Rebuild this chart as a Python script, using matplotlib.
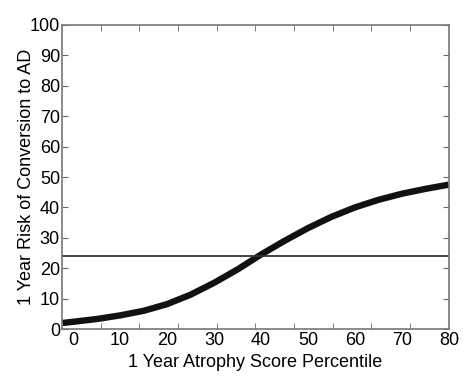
import numpy as np
import matplotlib

matplotlib.use("Agg")
from matplotlib import pyplot as plt

plt.rcParams["font.family"] = ["Liberation Sans", "DejaVu Sans"]

# percentile vs 1 year risk
percentile = [-2.3, 0, 5, 10, 15, 20, 25, 30, 35, 40, 45, 50, 55, 60, 65, 70, 75, 80]
risk = [2.0, 2.4, 3.3, 4.5, 6.0, 8.2, 11.3, 15.2, 19.6, 24.5, 29.0, 33.2, 36.9, 40.0, 42.5, 44.5, 46.1, 47.5]
threshold = 24.0
xticks = [0, 10, 20, 30, 40, 50, 60, 70, 80]
yticks = [0, 10, 20, 30, 40, 50, 60, 70, 80, 90, 100]

xmin, xmax = -2.35, 80

fig = plt.figure(figsize=(4.7, 3.84), dpi=100)
ax = fig.add_axes([0.132, 0.143, 0.823, 0.792])

ax.plot(percentile, risk, color="#111111", lw=4.6, solid_capstyle="butt")
ax.axhline(threshold, color="#333333", lw=1.3)

ax.set_xlim(xmin, xmax)
ax.set_ylim(0, 100)

# labels sit on their own positions, tick marks are evenly spaced
ax.set_xticks(xticks)
ax.set_xticklabels([str(v) for v in xticks])
ax.tick_params(axis="x", which="major", length=0, pad=2)
ax.set_xticks(np.linspace(xmin, xmax, 11)[1:-1], minor=True)
ax.tick_params(axis="x", which="minor", direction="in", length=4, top=True,
               bottom=True, color="#666666")

ax.set_yticks(yticks)
ax.tick_params(axis="y", which="major", direction="in", length=4, left=True,
               right=True, color="#666666", pad=1.5)
ax.tick_params(labelsize=13)

for s in ax.spines.values():
    s.set_color("#777777")
    s.set_linewidth(1.2)

ax.set_xlabel("1 Year Atrophy Score Percentile", fontsize=13, labelpad=4)
ax.set_ylabel("1 Year Risk of Conversion to AD", fontsize=13, labelpad=-3.5)

fig.savefig("out.png", dpi=100)
